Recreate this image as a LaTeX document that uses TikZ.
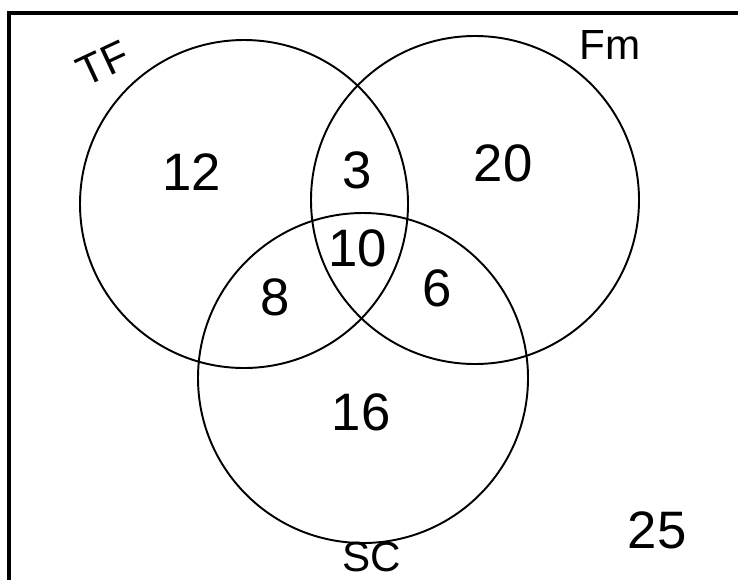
\documentclass[tikz,border=0pt]{standalone}
\usepackage{fontspec}
\setmainfont{Liberation Sans}
\usetikzlibrary{positioning}

\begin{document}
\begin{tikzpicture}[venn/.style={line width=1.1pt},
 setname/.style={font=\fontsize{24}{26}\selectfont},
 every node/.style={font=\fontsize{30}{32}\selectfont}]
\useasboundingbox (0,0) rectangle (14.76,-11.6);
% frame, top and left only
\draw[line width=2pt] (14.76,-0.26) -- (0.18,-0.26) -- (0.18,-11.6);
% the three sets
\draw[venn] (4.88,-4.08) circle (3.28cm);
\draw[venn] (9.5,-4.0) circle (3.28cm);
\draw[venn] (7.26,-7.56) circle (3.3cm);
\node[setname,rotate=25] (tf) at (2.06,-1.26) {TF};
\node[setname] (fm) at (12.2,-0.9) {Fm};
\node[setname] (sc) at (7.44,-11.14) {SC};
\node (onlytf) at (3.84,-3.44) {12};
\node (tffm) at (7.14,-3.4) {3};
\node (onlyfm) at (10.06,-3.26) {20};
\node (all) at (7.16,-4.96) {10};
\node (tfsc) at (5.5,-5.94) {8};
\node (fmsc) at (8.74,-5.76) {6};
\node (onlysc) at (7.22,-8.24) {16};
\node (none) at (13.14,-10.6) {25};
\end{tikzpicture}
\end{document}
